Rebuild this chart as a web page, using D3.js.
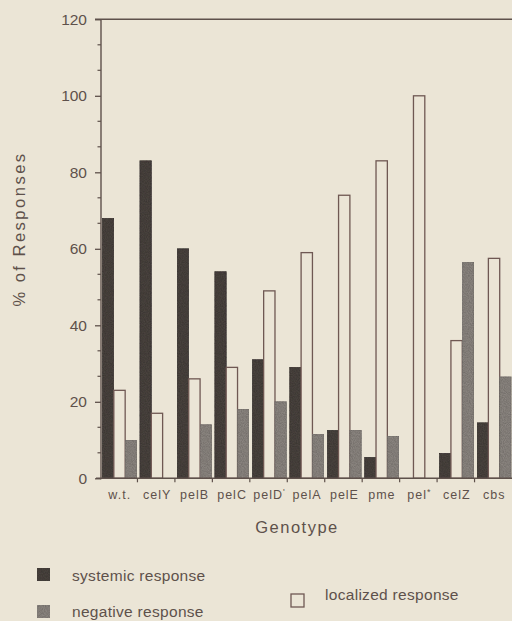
<!DOCTYPE html>
<html>
<head>
<meta charset="utf-8">
<script src="https://cdn.jsdelivr.net/npm/d3@7"></script>
<style>
  html, body { margin: 0; padding: 0; background: #ebe5d6; }
  svg { display: block; }
</style>
</head>
<body>
<div id="chart"></div>
<script>
const genotypes = ["w.t.", "celY", "pelB", "pelC", "pelD'", "pelA", "pelE", "pme", "pel*", "celZ", "cbs"];
const systemic = [68, 83, 60, 54, 31, 29, 12.5, 5.5, 0, 6.5, 14.5];
const localized = [23, 17, 26, 29, 49, 59, 74, 83, 100, 36, 57.5];
const negative = [10, 0, 14, 18, 20, 11.5, 12.5, 11, 0, 56.5, 26.5];
const seriesNames = ["systemic", "localized", "negative"];
const yTicks = [0, 20, 40, 60, 80, 100, 120];

const W = 512, H = 621;
const INK = "#5e514b";
const DARK = "#4b4441";
const GREY = "#8d8782";
const PAPER = "#ebe5d6";
const FONT = "'Liberation Sans', Arial, Helvetica, sans-serif";

const svg = d3.select("#chart").append("svg")
    .attr("width", W)
    .attr("height", H);

svg.append("rect").attr("width", W).attr("height", H).attr("fill", PAPER);

// grain filter, a bit of scan texture on the filled bars
const defs = svg.append("defs");
const f = defs.append("filter").attr("id", "grain").attr("x", 0).attr("y", 0).attr("width", 1).attr("height", 1);
f.append("feTurbulence").attr("type", "fractalNoise").attr("baseFrequency", 0.9).attr("numOctaves", 2).attr("seed", 3).attr("result", "n");
f.append("feColorMatrix").attr("in", "n").attr("type", "matrix")
    .attr("values", "0 0 0 0 0  0 0 0 0 0  0 0 0 0 0  0 0 0 0.55 -0.1").attr("result", "a");
f.append("feComposite").attr("in", "a").attr("in2", "SourceGraphic").attr("operator", "in").attr("result", "a2");
f.append("feMerge").call(m => { m.append("feMergeNode").attr("in", "SourceGraphic"); m.append("feMergeNode").attr("in", "a2"); });

const x = d3.scaleBand()
    .domain(genotypes)
    .range([100, 512])
    .padding(0);

const xSub = d3.scaleBand()
    .domain(seriesNames)
    .range([2.5, 36.5])
    .padding(0);

const y = d3.scaleLinear()
    .domain([0, 120])
    .range([478.3, 19.3]);

const fills = { systemic: DARK, localized: PAPER, negative: GREY };
const values = { systemic, localized, negative };

// bars
const groups = svg.selectAll(".grp")
    .data(genotypes)
    .join("g")
    .attr("class", "grp")
    .attr("transform", d => `translate(${x(d)},0)`);

groups.selectAll("rect")
    .data((d, i) => seriesNames.map(s => ({ s, v: values[s][i] })).filter(o => o.v > 0))
    .join("rect")
    .attr("x", d => xSub(d.s))
    .attr("y", d => y(d.v))
    .attr("width", xSub.bandwidth())
    .attr("height", d => y(0) - y(d.v))
    .attr("fill", d => fills[d.s])
    .attr("stroke", d => d.s === "localized" ? "#6f5853" : d3.color(fills[d.s]).darker(0.4))
    .attr("stroke-width", d => d.s === "localized" ? 1.3 : 0.8)
    .attr("filter", d => d.s === "localized" ? null : "url(#grain)");

// frame: left axis, top line, bottom line
svg.append("line").attr("x1", 101).attr("x2", 101).attr("y1", y(120)).attr("y2", y(0) + 1)
    .attr("stroke", INK).attr("stroke-width", 1.4);
svg.append("line").attr("x1", 95).attr("x2", W).attr("y1", y(120)).attr("y2", y(120))
    .attr("stroke", INK).attr("stroke-width", 1.4);
svg.append("line").attr("x1", 96).attr("x2", W).attr("y1", y(0)).attr("y2", y(0))
    .attr("stroke", INK).attr("stroke-width", 1.4);

// y axis ticks and labels
const yAxis = svg.append("g")
    .attr("transform", "translate(101,0)")
    .call(d3.axisLeft(y).tickValues(yTicks).tickSize(6).tickPadding(8));
yAxis.select(".domain").remove();
yAxis.selectAll(".tick line").attr("stroke", INK).attr("stroke-width", 1.3);
yAxis.selectAll(".tick text")
    .attr("fill", INK)
    .style("font-family", FONT)
    .style("font-size", "15.5px");

const minor = d3.range(0, 120, 20 / 3).filter((d, i) => i % 3 !== 0);
svg.append("g").selectAll("line")
    .data(minor)
    .join("line")
    .attr("x1", 97.5).attr("x2", 101)
    .attr("y1", d => y(d)).attr("y2", d => y(d))
    .attr("stroke", INK).attr("stroke-width", 1.2);

// x ticks at group boundaries
svg.append("g").selectAll("line")
    .data(genotypes.slice(1))
    .join("line")
    .attr("x1", d => x(d)).attr("x2", d => x(d))
    .attr("y1", y(0)).attr("y2", y(0) + 4)
    .attr("stroke", INK).attr("stroke-width", 1.2);

// x labels
const xl = svg.append("g").selectAll("text")
    .data(genotypes)
    .join("text")
    .attr("x", d => x(d) + x.bandwidth() / 2 + 1)
    .attr("y", 499)
    .attr("text-anchor", "middle")
    .attr("fill", INK)
    .style("font-family", FONT)
    .style("font-size", "12.5px")
    .style("letter-spacing", "1px");
xl.each(function (d) {
    const t = d3.select(this);
    const m = d.match(/^(.*?)(['*])$/);
    if (m) {
        t.append("tspan").text(m[1]);
        t.append("tspan").attr("dy", -4).style("font-size", "9px").text(m[2]);
    } else {
        t.text(d);
    }
});

// axis titles
svg.append("text")
    .attr("x", 297).attr("y", 533)
    .attr("text-anchor", "middle")
    .attr("fill", INK)
    .style("font-family", FONT)
    .style("font-size", "16.5px")
    .style("letter-spacing", "1.5px")
    .text("Genotype");

svg.append("text")
    .attr("transform", "translate(25,229) rotate(-90)")
    .attr("text-anchor", "middle")
    .attr("fill", INK)
    .style("font-family", FONT)
    .style("font-size", "16.5px")
    .style("letter-spacing", "2.5px")
    .text("% of Responses");

// legend
const legend = [
    { name: "systemic response", fill: DARK, lx: 37, ly: 568, tx: 72, ty: 581 },
    { name: "negative response", fill: GREY, lx: 37, ly: 605, tx: 72, ty: 617 },
    { name: "localized response", fill: PAPER, lx: 291, ly: 594, tx: 325, ty: 600 }
];
const lg = svg.append("g").selectAll("g")
    .data(legend)
    .join("g");
lg.append("rect")
    .attr("x", d => d.lx).attr("y", d => d.ly)
    .attr("width", 13).attr("height", 13)
    .attr("fill", d => d.fill)
    .attr("stroke", d => d.fill === PAPER ? "#6f5853" : d.fill)
    .attr("stroke-width", d => d.fill === PAPER ? 1.3 : 0.5)
    .attr("filter", d => d.fill === PAPER ? null : "url(#grain)");
lg.append("text")
    .attr("x", d => d.tx).attr("y", d => d.ty)
    .attr("fill", INK)
    .style("font-family", FONT)
    .style("font-size", "15.5px")
    .style("letter-spacing", "0.3px")
    .text(d => d.name);
</script>
</body>
</html>
